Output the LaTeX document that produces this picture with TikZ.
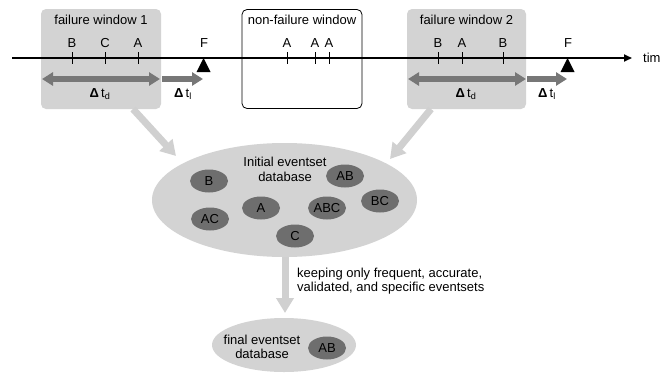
\documentclass[tikz,border=0pt]{standalone}
\usepackage{fontspec}
\setmainfont{Liberation Sans}
\usetikzlibrary{arrows.meta,shapes.geometric}
\definecolor{lgrey}{HTML}{D3D3D3}
\definecolor{dgrey}{HTML}{6E6E6E}
\definecolor{agrey}{HTML}{777777}
\definecolor{fgrey}{HTML}{D0D0D0}
\begin{document}
\begin{tikzpicture}[x=1pt,y=-1pt,
  font=\fontsize{13}{14.5}\selectfont,
  winbox/.style={rectangle, rounded corners=5pt, fill=lgrey, draw=none, minimum height=100pt, inner sep=0pt},
  nfbox/.style={rectangle, rounded corners=5pt, fill=white, draw=black, line width=0.8pt, minimum height=99pt, inner sep=0pt},
  evlabel/.style={inner sep=0pt},
  tickline/.style={draw=black, line width=0.8pt},
  fmark/.style={fill=black},
  deltaarrow/.style={draw=agrey, line width=6pt, {Triangle[length=11pt,width=13pt]}-{Triangle[length=11pt,width=13pt]}},
  deltaone/.style={draw=agrey, line width=6pt, -{Triangle[length=11pt,width=13pt]}},
  flowarrow/.style={draw=fgrey, line width=7pt, -{Triangle[length=15pt,width=17pt]}},
  evset/.style={ellipse, fill=dgrey, minimum width=38pt, minimum height=23pt, inner sep=0pt},
  db/.style={ellipse, fill=lgrey, inner sep=0pt},
  txt/.style={inner sep=0pt, align=center}
]
\useasboundingbox (0,0) rectangle (663,375);

% windows
\node[winbox, minimum width=120pt] (w1) at (101,59) {};
\node[nfbox, minimum width=120pt] (nf) at (302,59) {};
\node[winbox, minimum width=119pt] (w2) at (466.5,59) {};
\node[txt] (w1t) at (101,20) {failure window 1};
\node[txt] (nft) at (302,20) {non-failure window};
\node[txt] (w2t) at (466.5,20) {failure window 2};

% timeline
\coordinate (ts) at (12,58);
\coordinate (te) at (632,58);
\draw[line width=1.8pt, -{Triangle[length=8pt,width=7pt]}] (ts) -- (te);
\node[txt, anchor=west] (time) at (643,58) {tim};

% events
\foreach \x/\l/\n in {72/B/e1,105/C/e2,138/A/e3,287/A/e4,315/A/e5,329/A/e6,438/B/e7,462/A/e8,503/B/e9}{
  \node[evlabel] (\n) at (\x,43) {\l};
  \draw[tickline] (\x,52) -- (\x,64);
}

% failures
\node[evlabel] (f1) at (204,43) {F};
\fill[fmark] (203.5,58) -- (210.5,72) -- (196.5,72) -- cycle;
\node[evlabel] (f2) at (568,43) {F};
\fill[fmark] (567.5,58) -- (574.5,72) -- (560.5,72) -- cycle;

% delta arrows
\coordinate (d1a) at (42,79); \coordinate (d1b) at (160,79);
\coordinate (l1a) at (162,79); \coordinate (l1b) at (203,79);
\coordinate (d2a) at (408,79); \coordinate (d2b) at (526,79);
\coordinate (l2a) at (527,79); \coordinate (l2b) at (567,79);
\draw[deltaarrow] (d1a) -- (d1b);
\draw[deltaone] (l1a) -- (l1b);
\draw[deltaarrow] (d2a) -- (d2b);
\draw[deltaone] (l2a) -- (l2b);
\node[txt] (td1) at (100,94) {\textbf{Δ}\,t\textsubscript{d}};
\node[txt] (tl1) at (183,94) {\textbf{Δ}\,t\textsubscript{l}};
\node[txt] (td2) at (466,94) {\textbf{Δ}\,t\textsubscript{d}};
\node[txt] (tl2) at (547,94) {\textbf{Δ}\,t\textsubscript{l}};

% initial database
\node[db, minimum width=265pt, minimum height=114pt] (idb) at (284.5,200) {};
\node[txt, font=\fontsize{13}{15}\selectfont] (idbt) at (285,169) {Initial eventset\\database};
\node[evset] (sB) at (209,181) {B};
\node[evset] (sAB) at (345,176) {AB};
\node[evset] (sBC) at (380,201) {BC};
\node[evset] (sAC) at (210,219) {AC};
\node[evset] (sA) at (261,208) {A};
\node[evset] (sABC) at (327,208) {ABC};
\node[evset] (sC) at (295,236) {C};

% flow arrows
\coordinate (a1s) at (133,109); \coordinate (a1e) at (176,156);
\coordinate (a2s) at (431,109); \coordinate (a2e) at (390,159);
\draw[flowarrow] (a1s) -- (a1e);
\draw[flowarrow] (a2s) -- (a2e);
\coordinate (a3s) at (285,257); \coordinate (a3e) at (285,313);
\draw[flowarrow] (a3s) -- (a3e);
\node[txt, align=left, anchor=west, font=\fontsize{13}{14}\selectfont] (keep) at (297,281) {keeping only frequent, accurate,\\validated, and specific eventsets};

% final database
\node[db, minimum width=144pt, minimum height=54pt] (fdb) at (284,345) {};
\node[txt, font=\fontsize{13}{14.5}\selectfont] (fdbt) at (262,347) {final eventset\\database};
\node[evset] (fAB) at (327,348) {AB};
\end{tikzpicture}
\end{document}
